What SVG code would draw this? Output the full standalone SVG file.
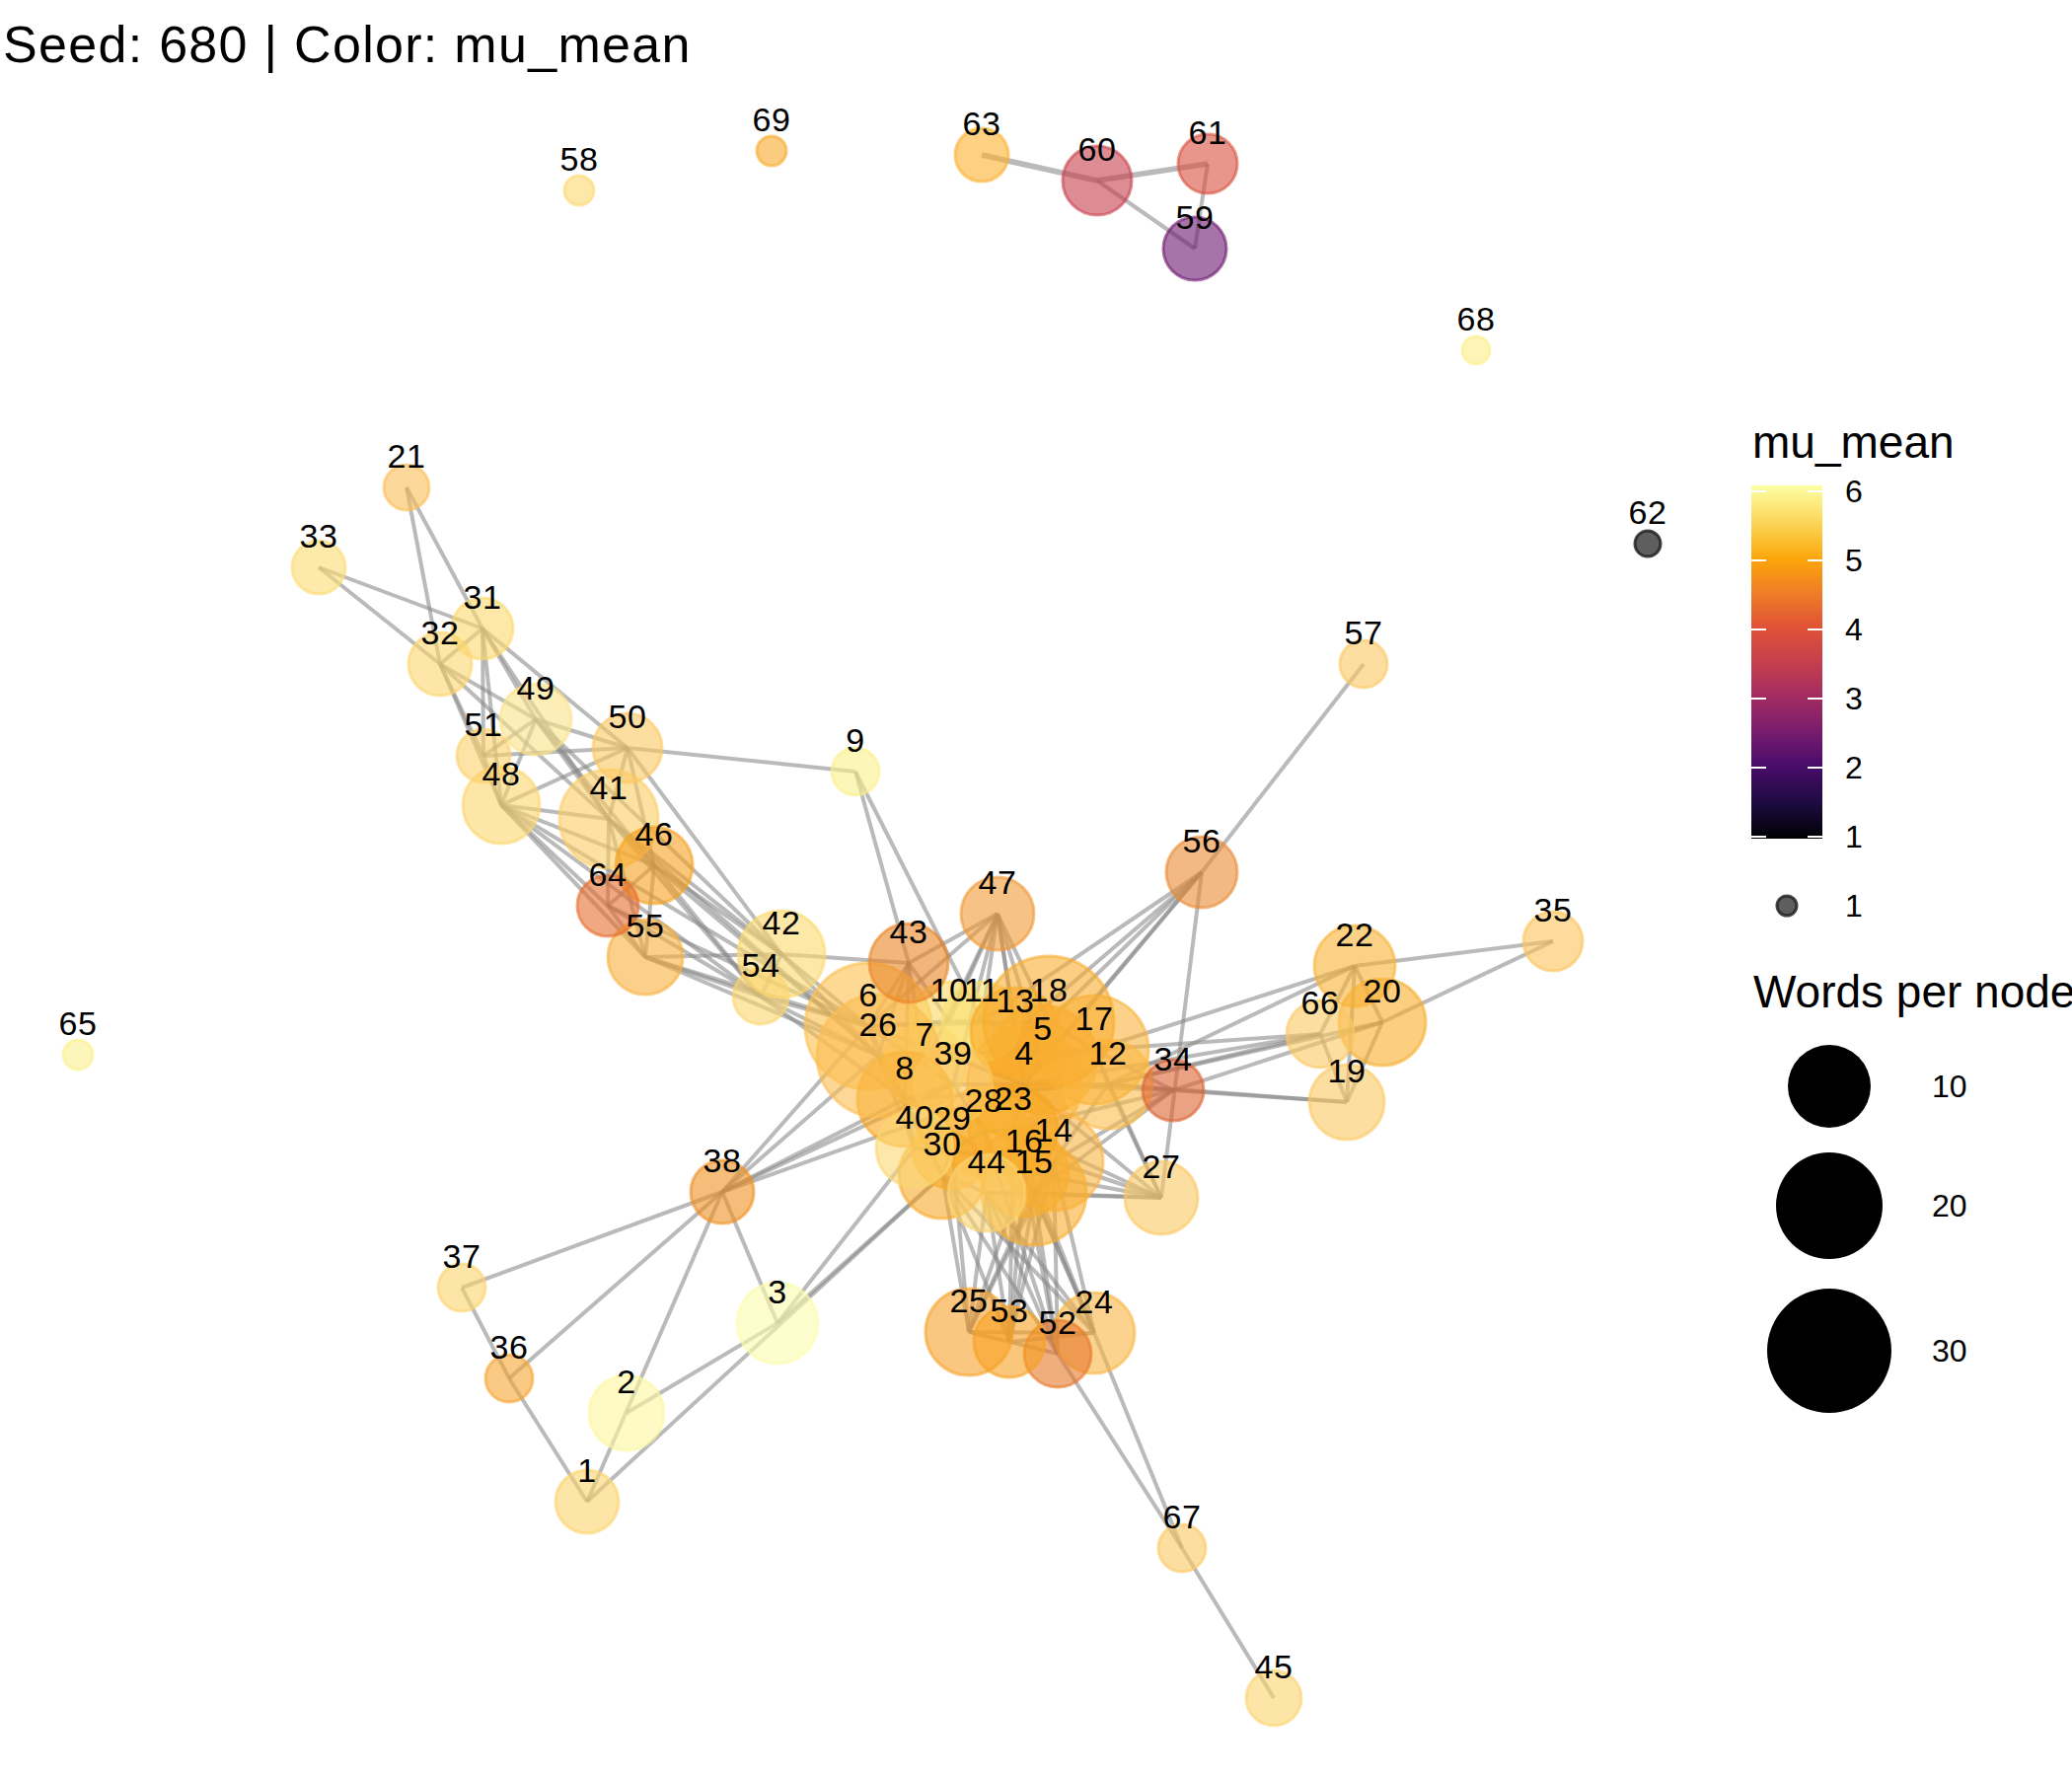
<svg xmlns="http://www.w3.org/2000/svg" width="2100" height="1800" viewBox="0 0 2100 1800">
<defs>
<style>
text{font-family:"Liberation Sans",Arial,Helvetica,sans-serif;fill:#000}
.e line{stroke:#888;stroke-opacity:.58;stroke-width:4}
.e line.w{stroke-width:5.8}
.n circle{fill-opacity:.6;stroke-opacity:.6;stroke-width:3}
.lb text{font-size:34px;text-anchor:middle;letter-spacing:0.6px}
.title{font-size:52px;letter-spacing:1.3px}
.lgt{font-size:46px}
.lgl{font-size:32px}
.tick{stroke:#fff;stroke-width:2}
</style>
<linearGradient id="inf" x1="0" y1="0" x2="0" y2="1">
<stop offset="0" stop-color="#fcffa4"/>
<stop offset="0.1" stop-color="#fbd85c"/>
<stop offset="0.16" stop-color="#fbbd2e"/>
<stop offset="0.21" stop-color="#fca50a"/>
<stop offset="0.30" stop-color="#f07f26"/>
<stop offset="0.40" stop-color="#e05336"/>
<stop offset="0.50" stop-color="#c63f4d"/>
<stop offset="0.60" stop-color="#a22b62"/>
<stop offset="0.70" stop-color="#771c6d"/>
<stop offset="0.79" stop-color="#4b0c6b"/>
<stop offset="0.90" stop-color="#1d0b40"/>
<stop offset="1" stop-color="#000004"/>
</linearGradient>
</defs>
<rect width="2100" height="1800" fill="#fff"/>
<text class="title" x="3" y="63">Seed: 680 | Color: mu_mean</text>

<g id="edges" class="e">
<line class="w" x1="995" y1="157" x2="1112" y2="183"/>
<line class="w" x1="1112" y1="183" x2="1224" y2="166"/>
<line x1="1112" y1="183" x2="1211" y2="252"/>
<line x1="1224" y1="166" x2="1211" y2="252"/>
<line x1="412" y1="494" x2="446" y2="673"/>
<line x1="412" y1="494" x2="489" y2="637"/>
<line x1="323" y1="575" x2="489" y2="637"/>
<line x1="323" y1="575" x2="446" y2="673"/>
<line x1="489" y1="637" x2="446" y2="673"/>
<line x1="489" y1="637" x2="543" y2="729"/>
<line x1="489" y1="637" x2="490" y2="766"/>
<line x1="489" y1="637" x2="508" y2="816"/>
<line x1="489" y1="637" x2="636" y2="758"/>
<line x1="489" y1="637" x2="617" y2="830"/>
<line x1="446" y1="673" x2="543" y2="729"/>
<line x1="446" y1="673" x2="490" y2="766"/>
<line x1="446" y1="673" x2="508" y2="816"/>
<line x1="446" y1="673" x2="617" y2="830"/>
<line x1="543" y1="729" x2="490" y2="766"/>
<line x1="543" y1="729" x2="508" y2="816"/>
<line x1="543" y1="729" x2="636" y2="758"/>
<line x1="543" y1="729" x2="617" y2="830"/>
<line x1="543" y1="729" x2="663" y2="877"/>
<line x1="490" y1="766" x2="508" y2="816"/>
<line x1="490" y1="766" x2="636" y2="758"/>
<line x1="508" y1="816" x2="636" y2="758"/>
<line x1="508" y1="816" x2="617" y2="830"/>
<line x1="508" y1="816" x2="663" y2="877"/>
<line x1="508" y1="816" x2="616" y2="918"/>
<line x1="508" y1="816" x2="654" y2="970"/>
<line x1="508" y1="816" x2="771" y2="1010"/>
<line x1="636" y1="758" x2="617" y2="830"/>
<line x1="636" y1="758" x2="663" y2="877"/>
<line x1="636" y1="758" x2="867" y2="782"/>
<line x1="636" y1="758" x2="792" y2="967"/>
<line x1="617" y1="830" x2="663" y2="877"/>
<line x1="617" y1="830" x2="616" y2="918"/>
<line x1="617" y1="830" x2="654" y2="970"/>
<line x1="617" y1="830" x2="792" y2="967"/>
<line x1="617" y1="830" x2="771" y2="1010"/>
<line x1="663" y1="877" x2="616" y2="918"/>
<line x1="663" y1="877" x2="654" y2="970"/>
<line x1="663" y1="877" x2="792" y2="967"/>
<line x1="663" y1="877" x2="771" y2="1010"/>
<line x1="663" y1="877" x2="890" y2="1070"/>
<line x1="616" y1="918" x2="654" y2="970"/>
<line x1="616" y1="918" x2="771" y2="1010"/>
<line x1="616" y1="918" x2="880" y2="1040"/>
<line x1="654" y1="970" x2="771" y2="1010"/>
<line x1="654" y1="970" x2="792" y2="967"/>
<line x1="654" y1="970" x2="880" y2="1040"/>
<line x1="654" y1="970" x2="890" y2="1070"/>
<line x1="792" y1="967" x2="771" y2="1010"/>
<line x1="792" y1="967" x2="880" y2="1040"/>
<line x1="792" y1="967" x2="890" y2="1070"/>
<line x1="792" y1="967" x2="921" y2="976"/>
<line x1="771" y1="1010" x2="880" y2="1040"/>
<line x1="771" y1="1010" x2="890" y2="1070"/>
<line x1="771" y1="1010" x2="917" y2="1114"/>
<line x1="508" y1="816" x2="880" y2="1040"/>
<line x1="617" y1="830" x2="890" y2="1070"/>
<line x1="543" y1="729" x2="792" y2="967"/>
<line x1="867" y1="782" x2="921" y2="976"/>
<line x1="867" y1="782" x2="995" y2="1035"/>
<line x1="1011" y1="926" x2="921" y2="976"/>
<line x1="1011" y1="926" x2="880" y2="1040"/>
<line x1="1011" y1="926" x2="962" y2="1035"/>
<line x1="1011" y1="926" x2="995" y2="1035"/>
<line x1="1011" y1="926" x2="1029" y2="1046"/>
<line x1="1011" y1="926" x2="1063" y2="1035"/>
<line x1="1011" y1="926" x2="937" y2="1080"/>
<line x1="1011" y1="926" x2="1038" y2="1099"/>
<line x1="1011" y1="926" x2="966" y2="1099"/>
<line x1="1011" y1="926" x2="1057" y2="1074"/>
<line x1="921" y1="976" x2="880" y2="1040"/>
<line x1="921" y1="976" x2="890" y2="1070"/>
<line x1="921" y1="976" x2="962" y2="1035"/>
<line x1="921" y1="976" x2="937" y2="1080"/>
<line x1="921" y1="976" x2="917" y2="1114"/>
<line x1="880" y1="1040" x2="890" y2="1070"/>
<line x1="880" y1="1040" x2="917" y2="1114"/>
<line x1="880" y1="1040" x2="937" y2="1080"/>
<line x1="880" y1="1040" x2="962" y2="1035"/>
<line x1="890" y1="1070" x2="917" y2="1114"/>
<line x1="890" y1="1070" x2="927" y2="1164"/>
<line x1="917" y1="1114" x2="927" y2="1164"/>
<line x1="917" y1="1114" x2="966" y2="1099"/>
<line x1="937" y1="1080" x2="966" y2="1099"/>
<line x1="962" y1="1035" x2="995" y2="1035"/>
<line x1="995" y1="1035" x2="1029" y2="1046"/>
<line x1="1029" y1="1046" x2="1063" y2="1035"/>
<line x1="1063" y1="1035" x2="1057" y2="1074"/>
<line x1="1057" y1="1074" x2="1038" y2="1099"/>
<line x1="1038" y1="1099" x2="966" y2="1099"/>
<line x1="1038" y1="1099" x2="1027" y2="1145"/>
<line x1="1038" y1="1099" x2="1123" y2="1099"/>
<line x1="1109" y1="1064" x2="1123" y2="1099"/>
<line x1="1109" y1="1064" x2="1057" y2="1074"/>
<line x1="1063" y1="1035" x2="1109" y2="1064"/>
<line x1="1123" y1="1099" x2="1068" y2="1177"/>
<line x1="1068" y1="1177" x2="1048" y2="1209"/>
<line x1="1048" y1="1209" x2="1038" y2="1188"/>
<line x1="1038" y1="1188" x2="1027" y2="1145"/>
<line x1="1027" y1="1145" x2="997" y2="1147"/>
<line x1="997" y1="1147" x2="965" y2="1165"/>
<line x1="965" y1="1165" x2="927" y2="1164"/>
<line x1="955" y1="1191" x2="1000" y2="1209"/>
<line x1="1000" y1="1209" x2="1048" y2="1209"/>
<line x1="955" y1="1191" x2="965" y2="1165"/>
<line x1="917" y1="1114" x2="955" y2="1191"/>
<line x1="890" y1="1070" x2="955" y2="1191"/>
<line x1="880" y1="1040" x2="1038" y2="1099"/>
<line x1="966" y1="1099" x2="997" y2="1147"/>
<line x1="1029" y1="1046" x2="1038" y2="1099"/>
<line x1="880" y1="1040" x2="1063" y2="1035"/>
<line x1="890" y1="1070" x2="1109" y2="1064"/>
<line x1="917" y1="1114" x2="1123" y2="1099"/>
<line x1="927" y1="1164" x2="1068" y2="1177"/>
<line x1="1218" y1="884" x2="1382" y2="673"/>
<line x1="1218" y1="884" x2="1177" y2="1214"/>
<line x1="1218" y1="884" x2="1029" y2="1046"/>
<line x1="1218" y1="884" x2="1063" y2="1035"/>
<line x1="1218" y1="884" x2="995" y2="1035"/>
<line x1="1218" y1="884" x2="1057" y2="1074"/>
<line x1="1218" y1="884" x2="1038" y2="1099"/>
<line x1="1373" y1="979" x2="1574" y2="954"/>
<line x1="1401" y1="1036" x2="1574" y2="954"/>
<line x1="1373" y1="979" x2="1338" y2="1048"/>
<line x1="1373" y1="979" x2="1365" y2="1117"/>
<line x1="1373" y1="979" x2="1401" y2="1036"/>
<line x1="1401" y1="1036" x2="1365" y2="1117"/>
<line x1="1338" y1="1048" x2="1365" y2="1117"/>
<line x1="1365" y1="1117" x2="1189" y2="1105"/>
<line x1="1365" y1="1117" x2="1123" y2="1099"/>
<line x1="1373" y1="979" x2="1109" y2="1064"/>
<line x1="1373" y1="979" x2="1123" y2="1099"/>
<line x1="1338" y1="1048" x2="1109" y2="1064"/>
<line x1="1338" y1="1048" x2="1123" y2="1099"/>
<line x1="1338" y1="1048" x2="1038" y2="1099"/>
<line x1="1401" y1="1036" x2="1123" y2="1099"/>
<line x1="1401" y1="1036" x2="1189" y2="1105"/>
<line x1="1189" y1="1105" x2="1123" y2="1099"/>
<line x1="1189" y1="1105" x2="1109" y2="1064"/>
<line x1="1189" y1="1105" x2="1038" y2="1099"/>
<line x1="1189" y1="1105" x2="1068" y2="1177"/>
<line x1="1189" y1="1105" x2="1048" y2="1209"/>
<line x1="1189" y1="1105" x2="1027" y2="1145"/>
<line x1="1177" y1="1214" x2="1068" y2="1177"/>
<line x1="1177" y1="1214" x2="1048" y2="1209"/>
<line x1="1177" y1="1214" x2="1038" y2="1188"/>
<line x1="1177" y1="1214" x2="1027" y2="1145"/>
<line x1="1177" y1="1214" x2="1123" y2="1099"/>
<line x1="1177" y1="1214" x2="1038" y2="1099"/>
<line x1="1177" y1="1214" x2="1000" y2="1209"/>
<line x1="1177" y1="1214" x2="1109" y2="1064"/>
<line x1="982" y1="1350" x2="955" y2="1191"/>
<line x1="982" y1="1350" x2="1000" y2="1209"/>
<line x1="982" y1="1350" x2="1048" y2="1209"/>
<line x1="982" y1="1350" x2="1038" y2="1188"/>
<line x1="982" y1="1350" x2="1068" y2="1177"/>
<line x1="982" y1="1350" x2="965" y2="1165"/>
<line x1="1023" y1="1360" x2="955" y2="1191"/>
<line x1="1023" y1="1360" x2="1000" y2="1209"/>
<line x1="1023" y1="1360" x2="1048" y2="1209"/>
<line x1="1023" y1="1360" x2="1038" y2="1188"/>
<line x1="1023" y1="1360" x2="1068" y2="1177"/>
<line x1="1023" y1="1360" x2="1027" y2="1145"/>
<line x1="1072" y1="1372" x2="955" y2="1191"/>
<line x1="1072" y1="1372" x2="1000" y2="1209"/>
<line x1="1072" y1="1372" x2="1048" y2="1209"/>
<line x1="1072" y1="1372" x2="1038" y2="1188"/>
<line x1="1072" y1="1372" x2="1068" y2="1177"/>
<line x1="1072" y1="1372" x2="997" y2="1147"/>
<line x1="1109" y1="1351" x2="1000" y2="1209"/>
<line x1="1109" y1="1351" x2="1048" y2="1209"/>
<line x1="1109" y1="1351" x2="1038" y2="1188"/>
<line x1="1109" y1="1351" x2="1068" y2="1177"/>
<line x1="1109" y1="1351" x2="955" y2="1191"/>
<line x1="1109" y1="1351" x2="1027" y2="1145"/>
<line x1="982" y1="1350" x2="1072" y2="1372"/>
<line x1="1023" y1="1360" x2="1109" y2="1351"/>
<line x1="982" y1="1350" x2="1109" y2="1351"/>
<line x1="1072" y1="1372" x2="1198" y2="1569"/>
<line x1="1109" y1="1351" x2="1198" y2="1569"/>
<line x1="1198" y1="1569" x2="1291" y2="1721"/>
<line x1="468" y1="1305" x2="732" y2="1208"/>
<line x1="468" y1="1305" x2="516" y2="1397"/>
<line x1="516" y1="1397" x2="595" y2="1522"/>
<line x1="516" y1="1397" x2="732" y2="1208"/>
<line x1="595" y1="1522" x2="732" y2="1208"/>
<line x1="635" y1="1432" x2="788" y2="1341"/>
<line x1="595" y1="1522" x2="955" y2="1191"/>
<line x1="788" y1="1341" x2="927" y2="1164"/>
<line x1="788" y1="1341" x2="955" y2="1191"/>
<line x1="788" y1="1341" x2="732" y2="1208"/>
<line x1="732" y1="1208" x2="880" y2="1040"/>
<line x1="732" y1="1208" x2="890" y2="1070"/>
<line x1="732" y1="1208" x2="917" y2="1114"/>
<line x1="732" y1="1208" x2="1038" y2="1099"/>
<line x1="732" y1="1208" x2="966" y2="1099"/>
</g>

<g id="nodes" class="n">
<g id="node-1"><circle cx="595" cy="1522" r="32" fill="#fcd46c" stroke="#fcd46c"/></g>
<g id="node-2"><circle cx="635" cy="1432" r="38" fill="#fbf7a0" stroke="#fbf7a0"/></g>
<g id="node-3"><circle cx="788" cy="1341" r="41" fill="#fbfbac" stroke="#fbfbac"/></g>
<g id="node-4"><circle cx="1038" cy="1099" r="58" fill="#f9a51c" stroke="#f9a51c"/></g>
<g id="node-5"><circle cx="1057" cy="1074" r="55" fill="#f9a51c" stroke="#f9a51c"/></g>
<g id="node-6"><circle cx="880" cy="1040" r="64" fill="#fbc04c" stroke="#fbc04c"/></g>
<g id="node-7"><circle cx="937" cy="1080" r="42" fill="#fcd060" stroke="#fcd060"/></g>
<g id="node-8"><circle cx="917" cy="1114" r="48" fill="#f9a51c" stroke="#f9a51c"/></g>
<g id="node-9"><circle cx="867" cy="782" r="24" fill="#fcf08a" stroke="#fcf08a"/></g>
<g id="node-10"><circle cx="962" cy="1035" r="40" fill="#fcd866" stroke="#fcd866"/></g>
<g id="node-11"><circle cx="995" cy="1035" r="40" fill="#fce070" stroke="#fce070"/></g>
<g id="node-12"><circle cx="1123" cy="1099" r="45" fill="#fbbe4c" stroke="#fbbe4c"/></g>
<g id="node-13"><circle cx="1029" cy="1046" r="45" fill="#f9a825" stroke="#f9a825"/></g>
<g id="node-14"><circle cx="1068" cy="1177" r="50" fill="#fab444" stroke="#fab444"/></g>
<g id="node-15"><circle cx="1048" cy="1209" r="53" fill="#f9ad30" stroke="#f9ad30"/></g>
<g id="node-16"><circle cx="1038" cy="1188" r="45" fill="#f9ad30" stroke="#f9ad30"/></g>
<g id="node-17"><circle cx="1109" cy="1064" r="55" fill="#fab43c" stroke="#fab43c"/></g>
<g id="node-18"><circle cx="1063" cy="1035" r="66" fill="#f9ad30" stroke="#f9ad30"/></g>
<g id="node-19"><circle cx="1365" cy="1117" r="38" fill="#fbc862" stroke="#fbc862"/></g>
<g id="node-20"><circle cx="1401" cy="1036" r="44" fill="#f9ad2c" stroke="#f9ad2c"/></g>
<g id="node-21"><circle cx="412" cy="494" r="23" fill="#fbbe58" stroke="#fbbe58"/></g>
<g id="node-22"><circle cx="1373" cy="979" r="41" fill="#f9b236" stroke="#f9b236"/></g>
<g id="node-23"><circle cx="1027" cy="1145" r="45" fill="#f9a825" stroke="#f9a825"/></g>
<g id="node-24"><circle cx="1109" cy="1351" r="41" fill="#fab642" stroke="#fab642"/></g>
<g id="node-25"><circle cx="982" cy="1350" r="44" fill="#f6a22c" stroke="#f6a22c"/></g>
<g id="node-26"><circle cx="890" cy="1070" r="62" fill="#fbbd50" stroke="#fbbd50"/></g>
<g id="node-27"><circle cx="1177" cy="1214" r="37" fill="#fbc862" stroke="#fbc862"/></g>
<g id="node-28"><circle cx="997" cy="1147" r="45" fill="#f9b232" stroke="#f9b232"/></g>
<g id="node-29"><circle cx="965" cy="1165" r="40" fill="#f9ad2c" stroke="#f9ad2c"/></g>
<g id="node-30"><circle cx="955" cy="1191" r="44" fill="#f8a82a" stroke="#f8a82a"/></g>
<g id="node-31"><circle cx="489" cy="637" r="31" fill="#fcd96e" stroke="#fcd96e"/></g>
<g id="node-32"><circle cx="446" cy="673" r="32" fill="#fcd66c" stroke="#fcd66c"/></g>
<g id="node-33"><circle cx="323" cy="575" r="27" fill="#fcdc72" stroke="#fcdc72"/></g>
<g id="node-34"><circle cx="1189" cy="1105" r="31" fill="#dc6232" stroke="#dc6232"/></g>
<g id="node-35"><circle cx="1574" cy="954" r="30" fill="#fbc35a" stroke="#fbc35a"/></g>
<g id="node-36"><circle cx="516" cy="1397" r="24" fill="#f6a532" stroke="#f6a532"/></g>
<g id="node-37"><circle cx="468" cy="1305" r="24" fill="#fcd46c" stroke="#fcd46c"/></g>
<g id="node-38"><circle cx="732" cy="1208" r="32" fill="#f0901f" stroke="#f0901f"/></g>
<g id="node-39"><circle cx="966" cy="1099" r="40" fill="#fbc458" stroke="#fbc458"/></g>
<g id="node-40"><circle cx="927" cy="1164" r="39" fill="#fcd772" stroke="#fcd772"/></g>
<g id="node-41"><circle cx="617" cy="830" r="50" fill="#fbcd66" stroke="#fbcd66"/></g>
<g id="node-42"><circle cx="792" cy="967" r="44" fill="#fcd96e" stroke="#fcd96e"/></g>
<g id="node-43"><circle cx="921" cy="976" r="40" fill="#e98424" stroke="#e98424"/></g>
<g id="node-44"><circle cx="1000" cy="1209" r="39" fill="#fcd472" stroke="#fcd472"/></g>
<g id="node-45"><circle cx="1291" cy="1721" r="28" fill="#fcd46c" stroke="#fcd46c"/></g>
<g id="node-46"><circle cx="663" cy="877" r="39" fill="#f6a020" stroke="#f6a020"/></g>
<g id="node-47"><circle cx="1011" cy="926" r="37" fill="#f09a36" stroke="#f09a36"/></g>
<g id="node-48"><circle cx="508" cy="816" r="39" fill="#fcd56c" stroke="#fcd56c"/></g>
<g id="node-49"><circle cx="543" cy="729" r="36" fill="#fce288" stroke="#fce288"/></g>
<g id="node-50"><circle cx="636" cy="758" r="35" fill="#fbc862" stroke="#fbc862"/></g>
<g id="node-51"><circle cx="490" cy="766" r="27" fill="#fcd06a" stroke="#fcd06a"/></g>
<g id="node-52"><circle cx="1072" cy="1372" r="34" fill="#e6782a" stroke="#e6782a"/></g>
<g id="node-53"><circle cx="1023" cy="1360" r="36" fill="#f6a021" stroke="#f6a021"/></g>
<g id="node-54"><circle cx="771" cy="1010" r="28" fill="#fcd56e" stroke="#fcd56e"/></g>
<g id="node-55"><circle cx="654" cy="970" r="38" fill="#f9b03c" stroke="#f9b03c"/></g>
<g id="node-56"><circle cx="1218" cy="884" r="36" fill="#e98a32" stroke="#e98a32"/></g>
<g id="node-57"><circle cx="1382" cy="673" r="24" fill="#fbc862" stroke="#fbc862"/></g>
<g id="node-58"><circle cx="587" cy="193" r="15" fill="#fcd872" stroke="#fcd872"/></g>
<g id="node-59"><circle cx="1211" cy="252" r="32" fill="#6a176e" stroke="#6a176e"/></g>
<g id="node-60"><circle cx="1112" cy="183" r="35" fill="#c8404c" stroke="#c8404c"/></g>
<g id="node-61"><circle cx="1224" cy="166" r="30" fill="#d8503e" stroke="#d8503e"/></g>
<g id="node-62"><circle cx="1670" cy="551" r="13" fill="#1a1a1a" stroke="#1a1a1a" style="fill-opacity:.7;stroke-opacity:.8"/></g>
<g id="node-63"><circle cx="995" cy="157" r="27" fill="#fcb12f" stroke="#fcb12f"/></g>
<g id="node-64"><circle cx="616" cy="918" r="31" fill="#e66e2f" stroke="#e66e2f"/></g>
<g id="node-65"><circle cx="79" cy="1069" r="15" fill="#fcf08c" stroke="#fcf08c"/></g>
<g id="node-66"><circle cx="1338" cy="1048" r="34" fill="#fbc862" stroke="#fbc862"/></g>
<g id="node-67"><circle cx="1198" cy="1569" r="24" fill="#fbc862" stroke="#fbc862"/></g>
<g id="node-68"><circle cx="1496" cy="355" r="14" fill="#fcee88" stroke="#fcee88"/></g>
<g id="node-69"><circle cx="782" cy="153" r="15" fill="#f9aa2a" stroke="#f9aa2a"/></g>
</g>

<g id="labels" class="lb">
<text id="label-1" x="595" y="1502">1</text>
<text id="label-2" x="635" y="1412">2</text>
<text id="label-3" x="788" y="1321">3</text>
<text id="label-4" x="1038" y="1079">4</text>
<text id="label-5" x="1057" y="1054">5</text>
<text id="label-6" x="880" y="1020">6</text>
<text id="label-7" x="937" y="1060">7</text>
<text id="label-8" x="917" y="1094">8</text>
<text id="label-9" x="867" y="762">9</text>
<text id="label-10" x="962" y="1015">10</text>
<text id="label-11" x="995" y="1015">11</text>
<text id="label-12" x="1123" y="1079">12</text>
<text id="label-13" x="1029" y="1026">13</text>
<text id="label-14" x="1068" y="1157">14</text>
<text id="label-15" x="1048" y="1189">15</text>
<text id="label-16" x="1038" y="1168">16</text>
<text id="label-17" x="1109" y="1044">17</text>
<text id="label-18" x="1063" y="1015">18</text>
<text id="label-19" x="1365" y="1097">19</text>
<text id="label-20" x="1401" y="1016">20</text>
<text id="label-21" x="412" y="474">21</text>
<text id="label-22" x="1373" y="959">22</text>
<text id="label-23" x="1027" y="1125">23</text>
<text id="label-24" x="1109" y="1331">24</text>
<text id="label-25" x="982" y="1330">25</text>
<text id="label-26" x="890" y="1050">26</text>
<text id="label-27" x="1177" y="1194">27</text>
<text id="label-28" x="997" y="1127">28</text>
<text id="label-29" x="965" y="1145">29</text>
<text id="label-30" x="955" y="1171">30</text>
<text id="label-31" x="489" y="617">31</text>
<text id="label-32" x="446" y="653">32</text>
<text id="label-33" x="323" y="555">33</text>
<text id="label-34" x="1189" y="1085">34</text>
<text id="label-35" x="1574" y="934">35</text>
<text id="label-36" x="516" y="1377">36</text>
<text id="label-37" x="468" y="1285">37</text>
<text id="label-38" x="732" y="1188">38</text>
<text id="label-39" x="966" y="1079">39</text>
<text id="label-40" x="927" y="1144">40</text>
<text id="label-41" x="617" y="810">41</text>
<text id="label-42" x="792" y="947">42</text>
<text id="label-43" x="921" y="956">43</text>
<text id="label-44" x="1000" y="1189">44</text>
<text id="label-45" x="1291" y="1701">45</text>
<text id="label-46" x="663" y="857">46</text>
<text id="label-47" x="1011" y="906">47</text>
<text id="label-48" x="508" y="796">48</text>
<text id="label-49" x="543" y="709">49</text>
<text id="label-50" x="636" y="738">50</text>
<text id="label-51" x="490" y="746">51</text>
<text id="label-52" x="1072" y="1352">52</text>
<text id="label-53" x="1023" y="1340">53</text>
<text id="label-54" x="771" y="990">54</text>
<text id="label-55" x="654" y="950">55</text>
<text id="label-56" x="1218" y="864">56</text>
<text id="label-57" x="1382" y="653">57</text>
<text id="label-58" x="587" y="173">58</text>
<text id="label-59" x="1211" y="232">59</text>
<text id="label-60" x="1112" y="163">60</text>
<text id="label-61" x="1224" y="146">61</text>
<text id="label-62" x="1670" y="531">62</text>
<text id="label-63" x="995" y="137">63</text>
<text id="label-64" x="616" y="898">64</text>
<text id="label-65" x="79" y="1049">65</text>
<text id="label-66" x="1338" y="1028">66</text>
<text id="label-67" x="1198" y="1549">67</text>
<text id="label-68" x="1496" y="335">68</text>
<text id="label-69" x="782" y="133">69</text>
</g>

<g id="legend-colour">
<text class="lgt" x="1776" y="464">mu_mean</text>
<rect x="1775" y="492" width="72" height="358" fill="url(#inf)"/>
<g class="tick">
<line x1="1775" y1="498" x2="1790" y2="498"/><line x1="1832" y1="498" x2="1847" y2="498"/>
<line x1="1775" y1="568" x2="1790" y2="568"/><line x1="1832" y1="568" x2="1847" y2="568"/>
<line x1="1775" y1="638" x2="1790" y2="638"/><line x1="1832" y1="638" x2="1847" y2="638"/>
<line x1="1775" y1="708" x2="1790" y2="708"/><line x1="1832" y1="708" x2="1847" y2="708"/>
<line x1="1775" y1="778" x2="1790" y2="778"/><line x1="1832" y1="778" x2="1847" y2="778"/>
<line x1="1775" y1="848" x2="1790" y2="848"/><line x1="1832" y1="848" x2="1847" y2="848"/>
</g>
<text class="lgl" x="1870" y="509">6</text>
<text class="lgl" x="1870" y="579">5</text>
<text class="lgl" x="1870" y="649">4</text>
<text class="lgl" x="1870" y="719">3</text>
<text class="lgl" x="1870" y="789">2</text>
<text class="lgl" x="1870" y="859">1</text>
<circle cx="1811" cy="918" r="10" fill="#1a1a1a" fill-opacity=".7" stroke="#1a1a1a" stroke-opacity=".8" stroke-width="3"/>
<text class="lgl" x="1870" y="929">1</text>
</g>

<g id="legend-size">
<text class="lgt" x="1777" y="1021">Words per node</text>
<circle cx="1854" cy="1101" r="42" fill="#000"/>
<circle cx="1854" cy="1222" r="54" fill="#000"/>
<circle cx="1854" cy="1369" r="63" fill="#000"/>
<text class="lgl" x="1958" y="1112">10</text>
<text class="lgl" x="1958" y="1233">20</text>
<text class="lgl" x="1958" y="1380">30</text>
</g>
</svg>
